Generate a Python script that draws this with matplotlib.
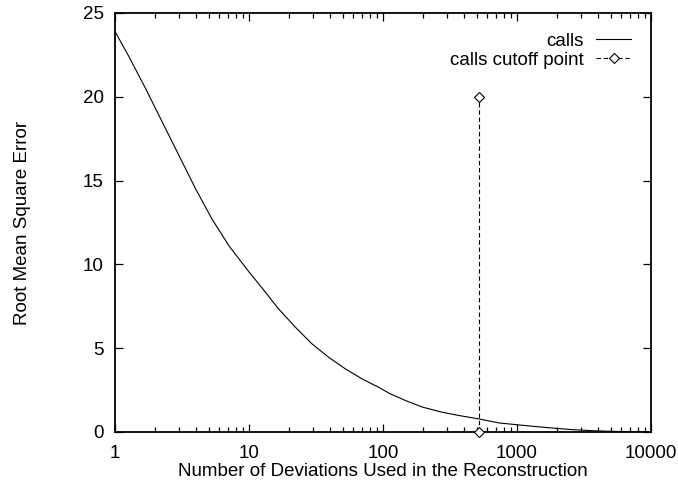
import matplotlib
matplotlib.use("Agg")
import matplotlib.pyplot as plt
from matplotlib.ticker import LogLocator, FixedLocator, FixedFormatter, NullFormatter

plt.rcParams["font.family"] = ["Liberation Sans", "DejaVu Sans"]

# RMS reconstruction error versus number of deviations kept
deviations = [1, 1.27, 1.69, 2.25, 3.0, 4.0, 5.3, 7.1, 10, 12.5, 16.6, 22.2,
              29.5, 39.3, 52.3, 69.7, 92.7, 113, 150, 198, 280, 371, 521,
              735, 980, 1400, 1940, 2600, 3630, 5000, 7000, 10000]
rmse = [23.9, 22.4, 20.5, 18.5, 16.5, 14.5, 12.7, 11.1, 9.55, 8.6, 7.35, 6.25,
        5.26, 4.46, 3.77, 3.17, 2.67, 2.28, 1.85, 1.48, 1.17, 0.98, 0.78,
        0.54, 0.44, 0.32, 0.22, 0.14, 0.08, 0.04, 0.02, 0.01]

# chosen cutoff, drawn as a vertical marker from 0 to 20
cutoff_x = [520, 520]
cutoff_y = [0, 20]

xtick_vals = [1, 10, 100, 1000, 10000]
xtick_text = ["1", "10", "100", "1000", "10000"]
ytick_vals = [0, 5, 10, 15, 20, 25]

FS = 13.5

fig = plt.figure(figsize=(6.78, 4.87), dpi=100)
ax = fig.add_axes([115 / 678, 1 - 432 / 487, 536 / 678, 419 / 487])

ax.plot(deviations, rmse, color="black", lw=0.8, label="calls")
ax.plot(cutoff_x, cutoff_y, color="black", lw=0.8, ls=(0, (4, 2.5)),
        marker="D", markersize=5, markerfacecolor="white",
        markeredgecolor="black", markeredgewidth=0.8,
        label="calls cutoff point", clip_on=False, zorder=5)

ax.set_xscale("log")
ax.set_xlim(1, 10000)
ax.set_ylim(0, 25)

ax.xaxis.set_major_locator(FixedLocator(xtick_vals))
ax.xaxis.set_major_formatter(FixedFormatter(xtick_text))
ax.xaxis.set_minor_locator(LogLocator(base=10, subs=range(2, 10), numticks=20))
ax.xaxis.set_minor_formatter(NullFormatter())
ax.set_yticks(ytick_vals)

ax.tick_params(which="both", direction="in", top=True, right=True,
               labelsize=FS, colors="black")
ax.tick_params(which="major", length=6, width=0.9)
ax.tick_params(which="minor", length=3.5, width=0.9)
ax.tick_params(axis="x", which="major", pad=9.5)
ax.tick_params(axis="y", which="major", pad=8)

for sp in ax.spines.values():
    sp.set_linewidth(1.3)

ax.set_xlabel("Number of Deviations Used in the Reconstruction", fontsize=FS)
ax.set_ylabel("Root Mean Square Error", fontsize=FS)
ax.xaxis.set_label_coords(0.5, -0.073)
ax.yaxis.set_label_coords(-0.157, 0.5)

ax.legend(loc="upper right", bbox_to_anchor=(0.963, 0.953), frameon=False,
          markerfirst=False, fontsize=FS, handlelength=1.85,
          handletextpad=0.7, labelspacing=0.1, borderpad=0,
          borderaxespad=0, numpoints=1)

fig.savefig("out.png", dpi=100)
